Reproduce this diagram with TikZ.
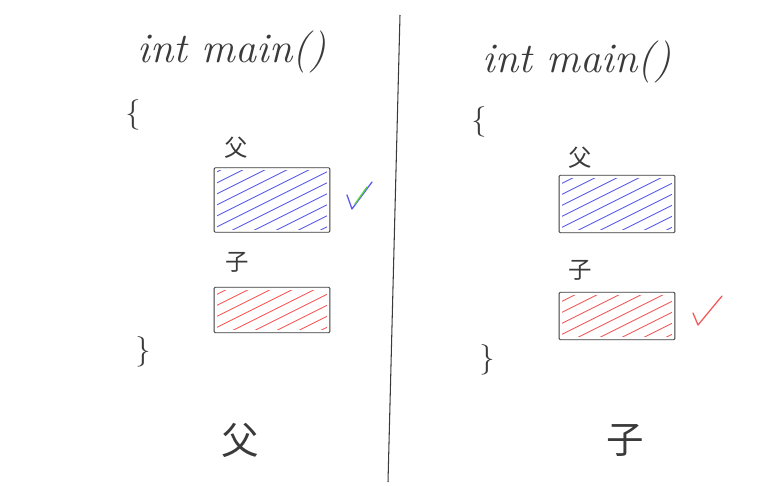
\documentclass[tikz,border=0pt]{standalone}
\usepackage{fontspec}
\usepackage{tikz}
\usetikzlibrary{calc}
\newfontfamily\cjk{Noto Sans CJK SC}
\definecolor{pen}{HTML}{3A3A3A}
\definecolor{penBlue}{HTML}{5A5AF0}
\definecolor{penRed}{HTML}{F25A5A}
\definecolor{penGreen}{HTML}{55D04A}

% hatch a box node with diagonal pen strokes
\newcommand{\hatchbox}[2]{%
  \begin{scope}
    \clip ([shift={(3,-3)}]#1.south west) rectangle ([shift={(-3,3)}]#1.north east);
    \foreach \k in {-140,-118,...,120}
      \draw[#2, line width=0.8pt, line cap=round] ([xshift=\k*0.03cm]#1.south west) -- ++(150,-75);
  \end{scope}
  \draw[pen, line width=0.8pt, rounded corners=1pt] (#1.south west) rectangle (#1.north east);
}

\begin{document}
\begin{tikzpicture}[x=0.03cm, y=-0.03cm,
  every node/.style={text=pen, inner sep=0pt},
  code/.style={font=\fontsize{36}{40}\selectfont\itshape},
  brace/.style={font=\fontsize{26}{30}\selectfont},
  tag/.style={font=\cjk\fontsize{20}{24}\selectfont},
  bigtag/.style={font=\cjk\fontsize{32}{36}\selectfont},
  box/.style={draw=none, minimum width=3.46cm},
  tick/.style={line width=1.1pt, line cap=round, line join=round},
]
  \useasboundingbox (0,0) rectangle (772,486);

  % left half
  \node[code]  (mainL)  at (232,52) {int main()};
  \node[brace] (openL)  at (133,115) {\{};
  \node[tag]   (fuTagL) at (236,148) {父};
  \node[box, minimum height=1.92cm] (fuL) at (272,200) {};
  \node[tag]   (ziTagL) at (237,262) {子};
  \node[box, minimum height=1.35cm] (ziL) at (272,310) {};
  \node[brace] (closeL) at (143,352) {\}};
  \node[bigtag] (resL)  at (240,440) {父};

  \hatchbox{fuL}{penBlue}
  \hatchbox{ziL}{penRed}

  \coordinate (chkL) at (352,209);
  \draw[tick, penBlue] ($(chkL)+(-5,-14)$) -- (chkL) -- ++(20,-27);
  \draw[tick, penGreen] ($(chkL)+(3,-5)$) -- ++(12,-17);

  % divider
  \coordinate (divTop) at (400,15);
  \coordinate (divBot) at (388,482);
  \draw[pen, line width=0.9pt] (divTop) -- (divBot);

  % right half
  \node[code]  (mainR)  at (577,62) {int main()};
  \node[brace] (openR)  at (479,122) {\{};
  \node[tag]   (fuTagR) at (580,158) {父};
  \node[box, minimum height=1.71cm] (fuR) at (617,204) {};
  \node[tag]   (ziTagR) at (580,270) {子};
  \node[box, minimum height=1.41cm] (ziR) at (617,316) {};
  \node[brace] (closeR) at (487,360) {\}};
  \node[bigtag] (resR)  at (625,440) {子};

  \hatchbox{fuR}{penBlue}
  \hatchbox{ziR}{penRed}

  \coordinate (chkR) at (698,325);
  \draw[tick, penRed] ($(chkR)+(-5,-12)$) -- (chkR) -- ++(24,-29);
\end{tikzpicture}
\end{document}
